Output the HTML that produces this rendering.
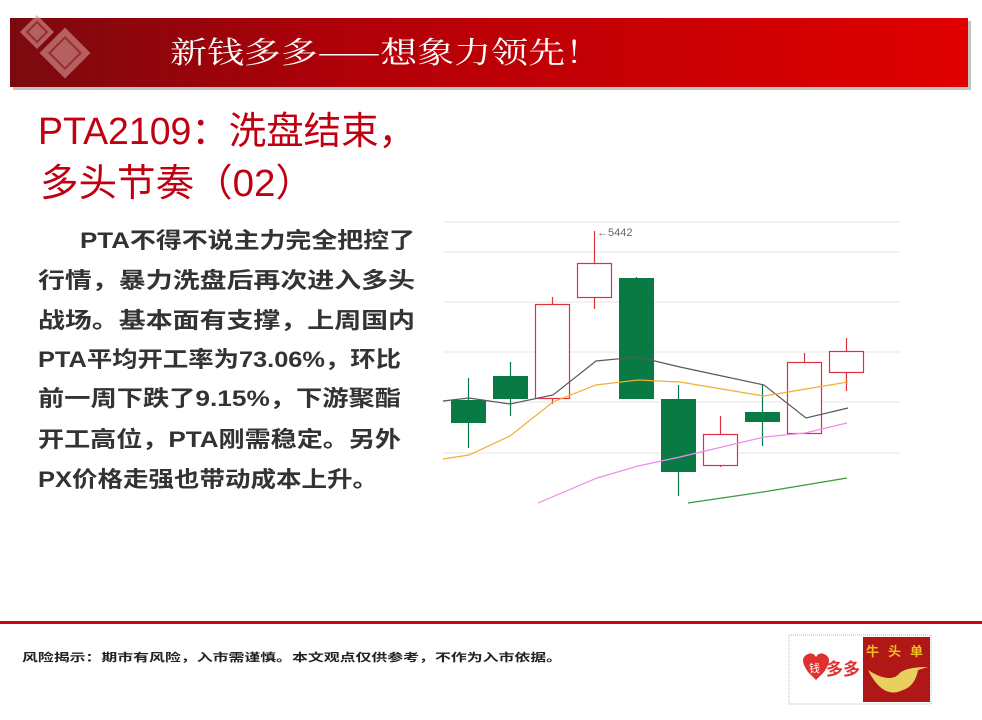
<!DOCTYPE html>
<html><head><meta charset="utf-8"><style>
html,body{margin:0;padding:0;background:#fff;}
body{width:982px;height:720px;overflow:hidden;position:relative;font-family:"Liberation Sans","Noto Sans CJK SC",sans-serif;}
</style></head><body>
<svg width="982" height="720" viewBox="0 0 982 720" xmlns="http://www.w3.org/2000/svg" style="position:absolute;left:0;top:0">
<defs>
<linearGradient id="bg" x1="0" x2="1" y1="0" y2="0">
<stop offset="0" stop-color="#7a0a0e"/><stop offset="0.35" stop-color="#b00008"/><stop offset="1" stop-color="#e00000"/>
</linearGradient>
</defs>
<rect x="13" y="21" width="958" height="69" fill="#999" opacity="0.6"/>
<rect x="10" y="18" width="958" height="69" fill="url(#bg)"/>
<g fill="#d89a9a" opacity="0.6">
<rect x="25" y="20" width="24" height="24" transform="rotate(45 37 32)"/>
<rect x="47" y="35" width="36" height="36" transform="rotate(45 65 53)"/>
</g>
<g fill="none" stroke="#8a1a1a" stroke-width="2" opacity="0.7">
<rect x="30" y="25" width="14" height="14" transform="rotate(45 37 32)"/>
<rect x="54" y="42" width="22" height="22" transform="rotate(45 65 53)"/>
</g>
<text x="170" y="63" font-family="'Noto Serif CJK SC','Noto Sans CJK SC',sans-serif" font-size="30" fill="#fff" textLength="432" lengthAdjust="spacingAndGlyphs">新钱多多——想象力领先！</text>

<text x="38" y="144" font-family="'Liberation Sans','Noto Sans CJK SC',sans-serif" font-size="38" fill="#c00010" textLength="378" lengthAdjust="spacingAndGlyphs">PTA2109：洗盘结束，</text>
<text x="40" y="196" font-family="'Liberation Sans','Noto Sans CJK SC',sans-serif" font-size="38" fill="#c00010" textLength="274" lengthAdjust="spacingAndGlyphs">多头节奏（02）</text>

<g font-family="'Liberation Sans','Noto Sans CJK SC',sans-serif" font-size="22" font-weight="bold" fill="#333">
<text x="80" y="248" textLength="335" lengthAdjust="spacingAndGlyphs">PTA不得不说主力完全把控了</text>
<text x="38" y="288" textLength="377" lengthAdjust="spacingAndGlyphs">行情，暴力洗盘后再次进入多头</text>
<text x="38" y="328" textLength="377" lengthAdjust="spacingAndGlyphs">战场。基本面有支撑，上周国内</text>
<text x="38" y="367" textLength="363" lengthAdjust="spacingAndGlyphs">PTA平均开工率为73.06%，环比</text>
<text x="38" y="406" textLength="363" lengthAdjust="spacingAndGlyphs">前一周下跌了9.15%，下游聚酯</text>
<text x="38" y="447" textLength="363" lengthAdjust="spacingAndGlyphs">开工高位，PTA刚需稳定。另外</text>
<text x="38" y="487" textLength="340" lengthAdjust="spacingAndGlyphs">PX价格走强也带动成本上升。</text>
</g>

<g stroke="#e6e6e6" stroke-width="1">
<line x1="443" y1="222" x2="900" y2="222"/><line x1="443" y1="252" x2="900" y2="252"/>
<line x1="443" y1="302" x2="900" y2="302"/><line x1="443" y1="352" x2="900" y2="352"/>
<line x1="443" y1="402" x2="900" y2="402"/><line x1="443" y1="453" x2="900" y2="453"/>
</g>
<g stroke="#0a7a45" stroke-width="1.2">
<line x1="468.5" y1="378" x2="468.5" y2="448"/><line x1="510.5" y1="362" x2="510.5" y2="416"/>
<line x1="636.5" y1="277" x2="636.5" y2="399"/><line x1="678.5" y1="385" x2="678.5" y2="496"/>
<line x1="762.5" y1="384" x2="762.5" y2="446"/>
</g>
<g fill="#0a7a45">
<rect x="451" y="400" width="35" height="23"/><rect x="493" y="376" width="35" height="23"/>
<rect x="619" y="278" width="35" height="121"/><rect x="661" y="399" width="35" height="73"/>
<rect x="745" y="412" width="35" height="10"/>
</g>
<g stroke="#e03040" stroke-width="1.2" fill="#fff">
<line x1="552.5" y1="297" x2="552.5" y2="404"/><line x1="594.5" y1="231" x2="594.5" y2="309"/>
<line x1="720.5" y1="416" x2="720.5" y2="467"/><line x1="804.5" y1="353" x2="804.5" y2="434"/>
<line x1="846.5" y1="338" x2="846.5" y2="391"/>
<rect x="535.5" y="304.5" width="34" height="94"/><rect x="577.5" y="263.5" width="34" height="34"/>
<rect x="703.5" y="434.5" width="34" height="31"/><rect x="787.5" y="362.5" width="34" height="71"/>
<rect x="829.5" y="351.5" width="34" height="21"/>
</g>
<text x="597" y="236" font-size="11" fill="#666" font-family="'Liberation Sans',sans-serif">←5442</text>
<g fill="none" stroke-width="1.2">
<polyline stroke="#555a60" points="443,401 469,398 510,404 553,395 596,361 638,357 680,367 722,376 764,385 806,418 848,408"/>
<polyline stroke="#f0b030" points="443,459 469,455 510,436 553,402 596,385 638,380 680,382 722,389 764,396 806,389 848,382"/>
<polyline stroke="#f08af0" points="538,503 597,478 638,466 680,457 722,447 764,437 805,433 847,423"/>
<polyline stroke="#3a9a3a" points="688,503 763,492 847,478"/>
</g>

<rect x="0" y="621" width="982" height="3" fill="#d00010"/>
<text x="22" y="661" font-size="11" font-weight="bold" fill="#222" font-family="'Liberation Sans','Noto Sans CJK SC',sans-serif" textLength="540" lengthAdjust="spacingAndGlyphs">风险揭示：期市有风险，入市需谨慎。本文观点仅供参考，不作为入市依据。</text>

<rect x="789" y="635" width="142" height="69" fill="#fff" stroke="#bbb" stroke-dasharray="1,1"/>
<path d="M808 672 q-10 -14 0 -18 q5 -2 8 3 q3 -5 8 -3 q10 4 0 18 l-8 8z" fill="#e03030"/>
<text x="809" y="672" font-size="11" fill="#fff" font-family="'Noto Sans CJK SC',sans-serif">钱</text>
<text x="826" y="675" font-size="17" fill="#e03030" font-weight="bold" font-family="'Noto Sans CJK SC',sans-serif">多多</text>
<rect x="863" y="637" width="67" height="65" fill="#b01818"/>
<g fill="#f0c020" font-size="13" font-family="'Noto Sans CJK SC',sans-serif" font-weight="bold">
<text x="866" y="656">牛</text><text x="888" y="656">头</text><text x="910" y="656">单</text>
</g>
<path d="M868 670 q15 30 35 20 q12 -4 15 -20 l10 -3 q-25 0 -30 8 q-10 8 -30 -5z" fill="#e8d060"/>
</svg>
</body></html>
